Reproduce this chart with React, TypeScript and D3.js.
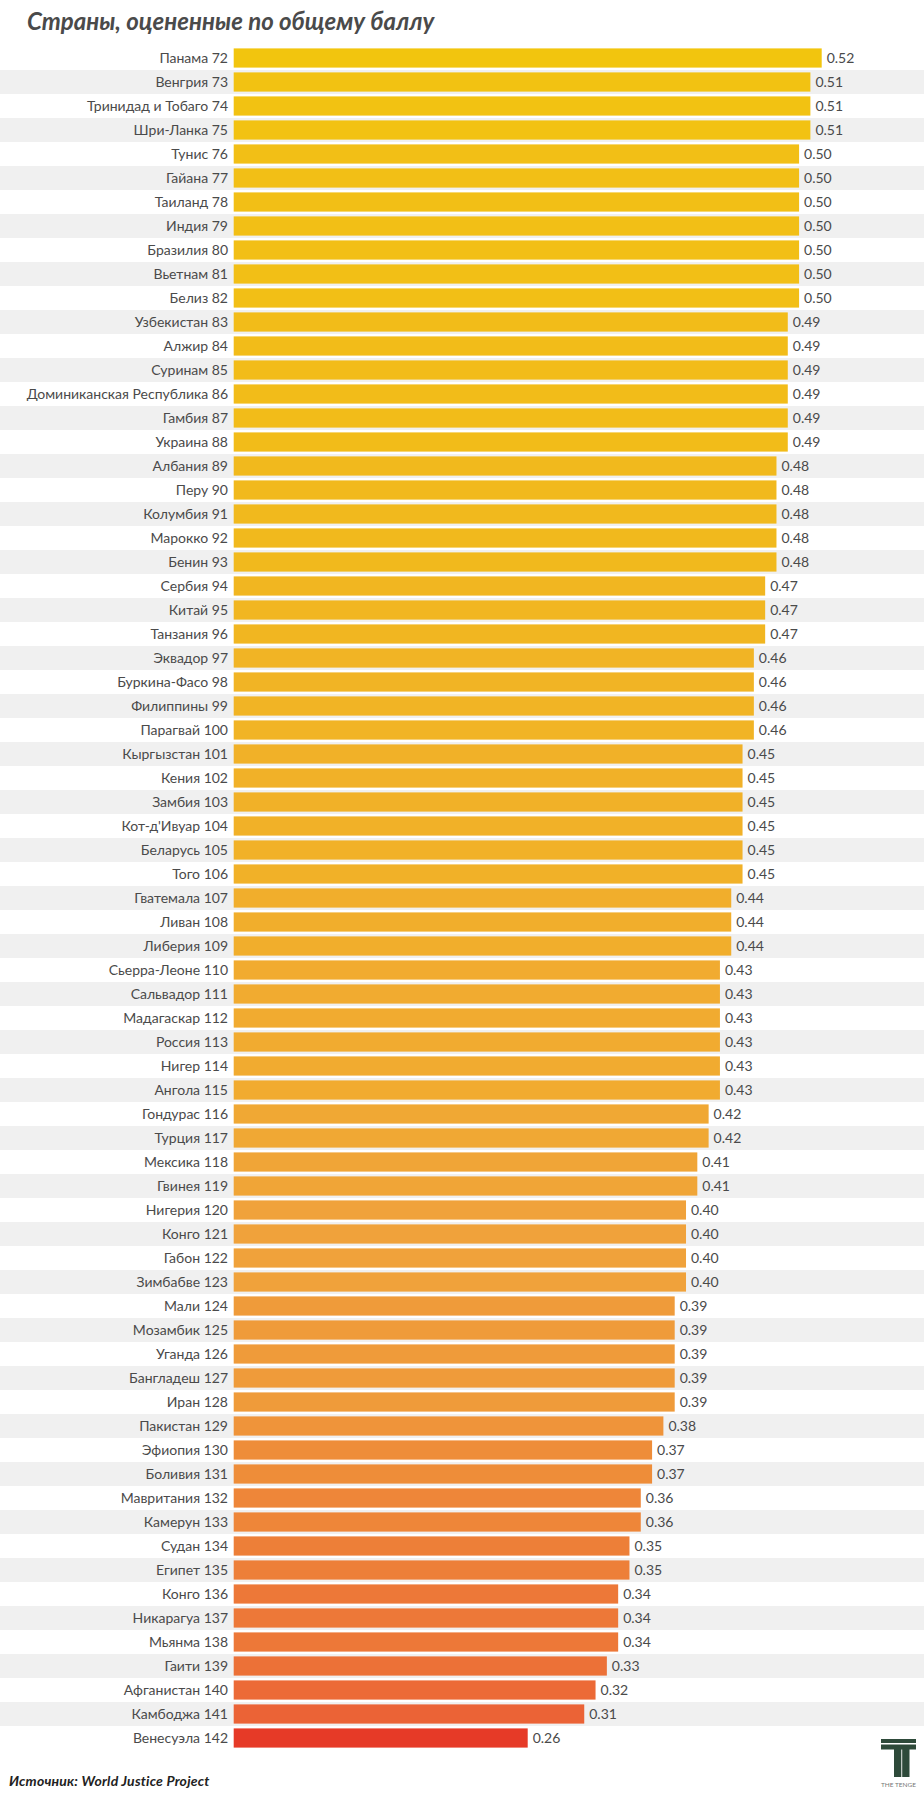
import React from "react";
import * as d3 from "d3";

const countries = [
  "Панама", "Венгрия", "Тринидад и Тобаго", "Шри-Ланка", "Тунис", "Гайана", "Таиланд", "Индия", "Бразилия", "Вьетнам",
  "Белиз", "Узбекистан", "Алжир", "Суринам", "Доминиканская Республика", "Гамбия", "Украина", "Албания", "Перу", "Колумбия",
  "Марокко", "Бенин", "Сербия", "Китай", "Танзания", "Эквадор", "Буркина-Фасо", "Филиппины", "Парагвай", "Кыргызстан",
  "Кения", "Замбия", "Кот-д'Ивуар", "Беларусь", "Того", "Гватемала", "Ливан", "Либерия", "Сьерра-Леоне", "Сальвадор",
  "Мадагаскар", "Россия", "Нигер", "Ангола", "Гондурас", "Турция", "Мексика", "Гвинея", "Нигерия", "Конго",
  "Габон", "Зимбабве", "Мали", "Мозамбик", "Уганда", "Бангладеш", "Иран", "Пакистан", "Эфиопия", "Боливия",
  "Мавритания", "Камерун", "Судан", "Египет", "Конго", "Никарагуа", "Мьянма", "Гаити", "Афганистан", "Камбоджа",
  "Венесуэла",
];

const ranks = d3.range(72, 143);

const scores = [
  0.52, 0.51, 0.51, 0.51, 0.50, 0.50, 0.50, 0.50, 0.50, 0.50,
  0.50, 0.49, 0.49, 0.49, 0.49, 0.49, 0.49, 0.48, 0.48, 0.48,
  0.48, 0.48, 0.47, 0.47, 0.47, 0.46, 0.46, 0.46, 0.46, 0.45,
  0.45, 0.45, 0.45, 0.45, 0.45, 0.44, 0.44, 0.44, 0.43, 0.43,
  0.43, 0.43, 0.43, 0.43, 0.42, 0.42, 0.41, 0.41, 0.40, 0.40,
  0.40, 0.40, 0.39, 0.39, 0.39, 0.39, 0.39, 0.38, 0.37, 0.37,
  0.36, 0.36, 0.35, 0.35, 0.34, 0.34, 0.34, 0.33, 0.32, 0.31,
  0.26,
];

const colorStops = [0.26, 0.31, 0.4, 0.52];
const colorRange = ["#e63a27", "#eb6336", "#f0a23b", "#f2c50e"];

const title = "Страны, оцененные по общему баллу";
const source = "Источник: World Justice Project";

export default function App() {
  const W = 924;
  const H = 1794;
  const x0 = 233.7;
  const n = countries.length;
  const ids = d3.range(n);

  const x = d3.scaleLinear().domain([0, 0.52]).range([x0, 821.7]);
  const y = d3
    .scaleBand<number>()
    .domain(ids)
    .range([46, 46 + n * 24])
    .paddingInner(0.2)
    .paddingOuter(0.1);
  const color = d3
    .scaleLinear<string>()
    .domain(colorStops)
    .range(colorRange)
    .interpolate(d3.interpolateRgb);

  const step = y.step();
  const bw = y.bandwidth();
  const font = "Lato, 'Open Sans', sans-serif";

  return (
    <svg
      width={W}
      height={H}
      style={{ position: "absolute", left: 0, top: 0, background: "#fff" }}
      fontFamily={font}
    >
      {ids.map((i) =>
        i % 2 === 1 ? (
          <rect key={"s" + i} x={0} y={(y(i) as number) - (step - bw) / 2} width={W} height={step} fill="#f0f0f0" />
        ) : null
      )}
      <text x={27} y={30} fontSize={24} fontWeight={700} fontStyle="italic" fill="#4a4a4a">
        {title}
      </text>
      {ids.map((i) => {
        const yy = y(i) as number;
        const cy = yy + bw / 2;
        return (
          <g key={i}>
            <rect x={x(0)} y={yy} width={x(scores[i]) - x(0)} height={bw} fill={color(scores[i])} />
            <text x={228} y={cy} dy="0.35em" textAnchor="end" fontSize={14} fill="#4a4a4a">
              {countries[i] + " " + ranks[i]}
            </text>
            <text x={x(scores[i]) + 5} y={cy} dy="0.35em" fontSize={14} fill="#4a4a4a">
              {d3.format(".2f")(scores[i])}
            </text>
          </g>
        );
      })}
      <text x={9} y={1786} fontSize={14} fontWeight={700} fontStyle="italic" fill="#222" letterSpacing={0.2}>
        {source}
      </text>
      <g fill="#2e4a3a">
        <rect x={881} y={1739} width={35} height={4} />
        <rect x={881} y={1744.5} width={35} height={5} />
        <rect x={894} y={1749} width={7.3} height={28} />
        <rect x={902.2} y={1749} width={7.3} height={28} />
      </g>
      <text x={898.5} y={1787} textAnchor="middle" fontSize={6.5} fill="#777" fontFamily={font}>
        THE TENGE
      </text>
    </svg>
  );
}
